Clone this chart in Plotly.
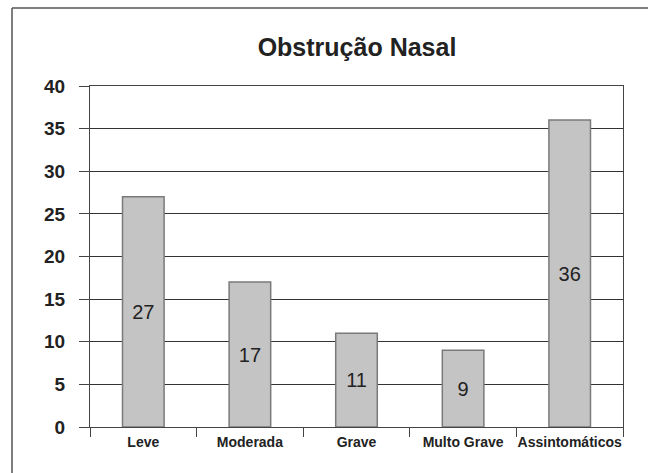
import plotly.graph_objects as go

categories = ["Leve", "Moderada", "Grave", "Multo Grave", "Assintomáticos"]
values = [27, 17, 11, 9, 36]
y_ticks = [0, 5, 10, 15, 20, 25, 30, 35, 40]
title_text = "Obstrução Nasal"

L, R, T, B = 90, 648 - 623, 86, 473 - 427
W = 648 - L - R
H = 473 - T - B

def px_x(p):
    return (p - L) / W

def px_y(p):
    return (473 - B - p) / H

fig = go.Figure()
fig.add_trace(go.Bar(
    x=categories, y=values,
    marker=dict(color="#C4C4C4", line=dict(color="#7a7a7a", width=1.5)),
    text=[str(v) for v in values],
    textposition="inside", insidetextanchor="middle",
    textfont=dict(family="Liberation Sans, Arial", size=20, color="#222222"),
    width=0.39,
    cliponaxis=False,
))

fig.update_layout(
    template="none",
    width=648, height=473,
    margin=dict(l=L, r=R, t=T, b=B),
    paper_bgcolor="white", plot_bgcolor="white",
    showlegend=False,
    title=dict(text="<b>" + title_text + "</b>",
               font=dict(family="Liberation Sans, Arial", size=25, color="#222222"),
               x=357 / 648, xanchor="center", y=1 - 47 / 473, yanchor="middle"),
    shapes=[
        dict(type="line", xref="paper", yref="paper",
             x0=px_x(12), x1=px_x(660), y0=px_y(8), y1=px_y(8),
             line=dict(color="#555555", width=1.5)),
        dict(type="line", xref="paper", yref="paper",
             x0=px_x(12), x1=px_x(12), y0=px_y(8), y1=px_y(480),
             line=dict(color="#555555", width=1.5)),
    ],
)

fig.update_yaxes(
    range=[0, 40], tickvals=y_ticks, ticktext=["<b>%d</b>" % t for t in y_ticks],
    automargin=False,
    showgrid=True, gridcolor="#333333", gridwidth=1,
    showline=True, linecolor="#444444", linewidth=1, mirror=True,
    ticks="outside", ticklen=10, tickcolor="#444444",
    tickfont=dict(family="Liberation Sans, Arial", size=19, color="#222222"),
    ticklabelstandoff=10,
    zeroline=False,
)
fig.update_xaxes(
    automargin=False, tickangle=0,
    showline=True, linecolor="#444444", linewidth=1, mirror=True,
    ticks="outside", ticklen=9, tickcolor="#444444", tickson="boundaries",
    tickfont=dict(family="Liberation Sans, Arial", size=14, color="#222222"),
    tickprefix="<b>", ticksuffix="</b>",
    ticklabelstandoff=2,
    showgrid=False,
)

fig.write_html("out.html", config={"displayModeBar": False},
               post_script="document.body.style.margin='0';")
